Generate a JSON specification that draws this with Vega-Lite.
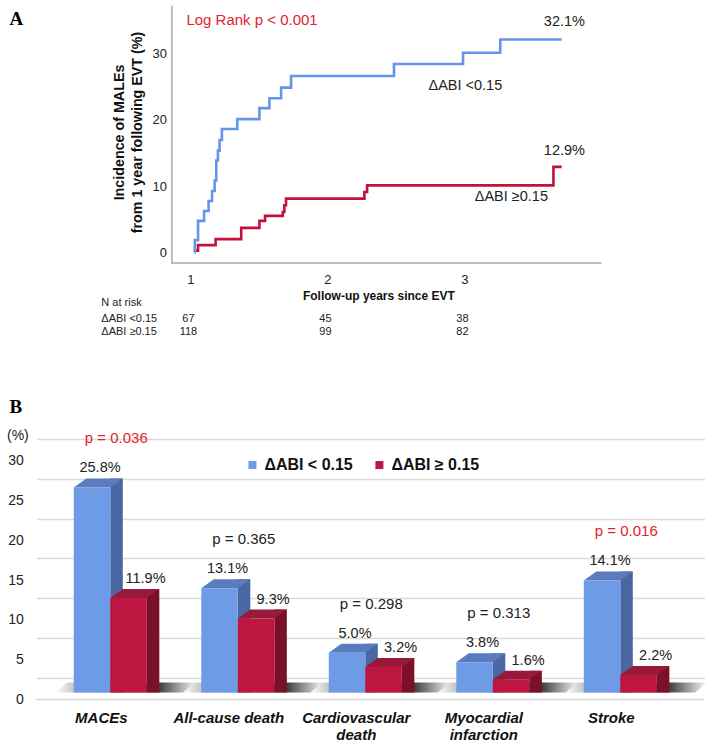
{
  "$schema": "https://vega.github.io/schema/vega-lite/v6.json",
  "padding": {"left": 6.4, "top": 5, "right": 0, "bottom": 0},
  "background": "white",
  "config": {"font": "Liberation Sans", "view": {"stroke": null}},
  "datasets": {
    "km": [
      {"grp": "ΔABI ≥0.15", "t": 1.024, "v": 0.25},
      {"grp": "ΔABI ≥0.15", "t": 1.056, "v": 1.1},
      {"grp": "ΔABI ≥0.15", "t": 1.184, "v": 2.0},
      {"grp": "ΔABI ≥0.15", "t": 1.371, "v": 3.7},
      {"grp": "ΔABI ≥0.15", "t": 1.504, "v": 4.75},
      {"grp": "ΔABI ≥0.15", "t": 1.545, "v": 5.5},
      {"grp": "ΔABI ≥0.15", "t": 1.674, "v": 6.1},
      {"grp": "ΔABI ≥0.15", "t": 1.686, "v": 7.1},
      {"grp": "ΔABI ≥0.15", "t": 1.698, "v": 8.1},
      {"grp": "ΔABI ≥0.15", "t": 2.27, "v": 9.1},
      {"grp": "ΔABI ≥0.15", "t": 2.29, "v": 10.1},
      {"grp": "ΔABI ≥0.15", "t": 3.65, "v": 12.9},
      {"grp": "ΔABI ≥0.15", "t": 3.71, "v": 12.9},
      {"grp": "ΔABI <0.15", "t": 1.031, "v": 0},
      {"grp": "ΔABI <0.15", "t": 1.033, "v": 1.85},
      {"grp": "ΔABI <0.15", "t": 1.056, "v": 4.75},
      {"grp": "ΔABI <0.15", "t": 1.1, "v": 6.25},
      {"grp": "ΔABI <0.15", "t": 1.133, "v": 7.75},
      {"grp": "ΔABI <0.15", "t": 1.158, "v": 9.25},
      {"grp": "ΔABI <0.15", "t": 1.177, "v": 10.85},
      {"grp": "ΔABI <0.15", "t": 1.189, "v": 13.85},
      {"grp": "ΔABI <0.15", "t": 1.201, "v": 15.35},
      {"grp": "ΔABI <0.15", "t": 1.213, "v": 16.95},
      {"grp": "ΔABI <0.15", "t": 1.23, "v": 18.6},
      {"grp": "ΔABI <0.15", "t": 1.342, "v": 20.1},
      {"grp": "ΔABI <0.15", "t": 1.504, "v": 21.75},
      {"grp": "ΔABI <0.15", "t": 1.577, "v": 23.25},
      {"grp": "ΔABI <0.15", "t": 1.662, "v": 24.85},
      {"grp": "ΔABI <0.15", "t": 1.735, "v": 26.6},
      {"grp": "ΔABI <0.15", "t": 2.486, "v": 28.4},
      {"grp": "ΔABI <0.15", "t": 2.99, "v": 30.1},
      {"grp": "ΔABI <0.15", "t": 3.262, "v": 32.1},
      {"grp": "ΔABI <0.15", "t": 3.71, "v": 32.1}
    ],
    "risk": [
      {"grp": "ΔABI <0.15", "t": 1, "n": 67},
      {"grp": "ΔABI <0.15", "t": 2, "n": 45},
      {"grp": "ΔABI <0.15", "t": 3, "n": 38},
      {"grp": "ΔABI ≥0.15", "t": 1, "n": 118},
      {"grp": "ΔABI ≥0.15", "t": 2, "n": 99},
      {"grp": "ΔABI ≥0.15", "t": 3, "n": 82}
    ],
    "bars": [
      {"outcome": "MACEs", "group": "ΔABI < 0.15", "value": 25.8},
      {"outcome": "MACEs", "group": "ΔABI ≥ 0.15", "value": 11.9},
      {"outcome": "All-cause death", "group": "ΔABI < 0.15", "value": 13.1},
      {"outcome": "All-cause death", "group": "ΔABI ≥ 0.15", "value": 9.3},
      {"outcome": "Cardiovascular death", "group": "ΔABI < 0.15", "value": 5.0},
      {"outcome": "Cardiovascular death", "group": "ΔABI ≥ 0.15", "value": 3.2},
      {"outcome": "Myocardial infarction", "group": "ΔABI < 0.15", "value": 3.8},
      {"outcome": "Myocardial infarction", "group": "ΔABI ≥ 0.15", "value": 1.6},
      {"outcome": "Stroke", "group": "ΔABI < 0.15", "value": 14.1},
      {"outcome": "Stroke", "group": "ΔABI ≥ 0.15", "value": 2.2}
    ],
    "pvals": [
      {"outcome": "MACEs", "p": "p = 0.036", "sig": true},
      {"outcome": "All-cause death", "p": "p = 0.365", "sig": false},
      {"outcome": "Cardiovascular death", "p": "p = 0.298", "sig": false},
      {"outcome": "Myocardial infarction", "p": "p = 0.313", "sig": false},
      {"outcome": "Stroke", "p": "p = 0.016", "sig": true}
    ]
  },
  "vconcat": [
    {
      "width": 565,
      "height": 258,
      "layer": [
        {
          "data": {"values": [{}]},
          "mark": {"type": "rule", "color": "#aaaaaa", "strokeWidth": 1.5},
          "encoding": {
            "x": {"datum": 0.861, "type": "quantitative", "scale": {"domain": [-0.124, 4.0], "nice": false, "zero": false}},
            "x2": {"datum": 4.0},
            "y": {"datum": -1.6, "type": "quantitative", "scale": {"domain": [-1.6, 37.3], "nice": false, "zero": false}}
          }
        },
        {
          "data": {"name": "km"},
          "mark": {"type": "line", "interpolate": "step-after", "strokeWidth": 2.6},
          "encoding": {
            "x": {"field": "t", "type": "quantitative", "scale": {"domain": [-0.124, 4.0], "nice": false, "zero": false},
              "axis": {"values": [1, 2, 3], "format": "d", "title": "Follow-up years since EVT", "titleFontSize": 12, "titleFontWeight": "bold", "titleColor": "#111", "titleX": 342, "titlePadding": 4, "labelFontSize": 13, "labelColor": "#222", "labelPadding": 10, "ticks": false, "grid": false, "domain": false}},
            "y": {"field": "v", "type": "quantitative", "scale": {"domain": [-1.6, 37.3], "nice": false, "zero": false},
              "axis": {"offset": -135, "tickMinStep": 10, "title": ["Incidence of MALEs", "from 1 year following EVT (%)"], "titleFontSize": 14.3, "titleFontWeight": "bold", "titleColor": "#111", "titleLineHeight": 18, "titlePadding": 7, "titleY": 127, "labelFontSize": 13, "labelColor": "#222", "labelPadding": 5, "ticks": false, "grid": false, "domainColor": "#aaaaaa", "domainWidth": 1.5}},
            "color": {"field": "grp", "type": "nominal", "scale": {"domain": ["ΔABI <0.15", "ΔABI ≥0.15"], "range": ["#6595ea", "#c4103a"]}, "legend": null}
          }
        },
        {
          "data": {"values": [{"t": -0.321, "v": 35.25, "txt": "A"}]},
          "mark": {"type": "text", "align": "left", "baseline": "middle", "font": "Liberation Serif", "fontWeight": "bold", "fontSize": 19, "color": "#000"},
          "encoding": {
            "x": {"field": "t", "type": "quantitative", "scale": {"domain": [-0.124, 4.0], "nice": false, "zero": false}},
            "y": {"field": "v", "type": "quantitative", "scale": {"domain": [-1.6, 37.3], "nice": false, "zero": false}},
            "text": {"field": "txt"}
          }
        },
        {
          "data": {"values": [{"t": 0.971, "v": 35.0, "txt": "Log Rank p < 0.001"}]},
          "mark": {"type": "text", "align": "left", "baseline": "middle", "fontSize": 15, "color": "#e3242b"},
          "encoding": {
            "x": {"field": "t", "type": "quantitative", "scale": {"domain": [-0.124, 4.0], "nice": false, "zero": false}},
            "y": {"field": "v", "type": "quantitative", "scale": {"domain": [-1.6, 37.3], "nice": false, "zero": false}},
            "text": {"field": "txt"}
          }
        },
        {
          "data": {"values": [
            {"t": 3.73, "v": 34.7, "txt": "32.1%"},
            {"t": 3.007, "v": 25.1, "txt": "ΔABI <0.15"},
            {"t": 3.73, "v": 15.3, "txt": "12.9%"},
            {"t": 3.343, "v": 8.3, "txt": "ΔABI ≥0.15"}
          ]},
          "mark": {"type": "text", "align": "center", "baseline": "middle", "fontSize": 14.5, "color": "#222"},
          "encoding": {
            "x": {"field": "t", "type": "quantitative", "scale": {"domain": [-0.124, 4.0], "nice": false, "zero": false}},
            "y": {"field": "v", "type": "quantitative", "scale": {"domain": [-1.6, 37.3], "nice": false, "zero": false}},
            "text": {"field": "txt"}
          }
        },
        {
          "data": {"values": [{"txt": "N at risk"}]},
          "mark": {"type": "text", "align": "left", "baseline": "middle", "fontSize": 11, "color": "#222"},
          "encoding": {
            "x": {"datum": 0.35, "type": "quantitative", "scale": {"domain": [-0.124, 4.0], "nice": false, "zero": false}},
            "y": {"datum": -7.64, "type": "quantitative", "scale": {"domain": [-1.6, 37.3], "nice": false, "zero": false}},
            "text": {"field": "txt"}
          }
        },
        {
          "data": {"name": "risk"},
          "transform": [{"filter": "datum.grp == 'ΔABI <0.15' && datum.t == 1"}],
          "mark": {"type": "text", "align": "left", "baseline": "middle", "fontSize": 11, "color": "#222"},
          "encoding": {
            "x": {"datum": 0.35, "type": "quantitative", "scale": {"domain": [-0.124, 4.0], "nice": false, "zero": false}},
            "y": {"datum": -10.06, "type": "quantitative", "scale": {"domain": [-1.6, 37.3], "nice": false, "zero": false}},
            "text": {"field": "grp"}
          }
        },
        {
          "data": {"name": "risk"},
          "transform": [{"filter": "datum.grp == 'ΔABI ≥0.15' && datum.t == 1"}],
          "mark": {"type": "text", "align": "left", "baseline": "middle", "fontSize": 11, "color": "#222"},
          "encoding": {
            "x": {"datum": 0.35, "type": "quantitative", "scale": {"domain": [-0.124, 4.0], "nice": false, "zero": false}},
            "y": {"datum": -12.02, "type": "quantitative", "scale": {"domain": [-1.6, 37.3], "nice": false, "zero": false}},
            "text": {"field": "grp"}
          }
        },
        {
          "data": {"name": "risk"},
          "transform": [{"filter": "datum.grp == 'ΔABI <0.15'"}],
          "mark": {"type": "text", "align": "center", "baseline": "middle", "fontSize": 11, "color": "#222", "dx": -2},
          "encoding": {
            "x": {"field": "t", "type": "quantitative", "scale": {"domain": [-0.124, 4.0], "nice": false, "zero": false}},
            "y": {"datum": -10.06, "type": "quantitative", "scale": {"domain": [-1.6, 37.3], "nice": false, "zero": false}},
            "text": {"field": "n"}
          }
        },
        {
          "data": {"name": "risk"},
          "transform": [{"filter": "datum.grp == 'ΔABI ≥0.15'"}],
          "mark": {"type": "text", "align": "center", "baseline": "middle", "fontSize": 11, "color": "#222", "dx": -2},
          "encoding": {
            "x": {"field": "t", "type": "quantitative", "scale": {"domain": [-0.124, 4.0], "nice": false, "zero": false}},
            "y": {"datum": -12.02, "type": "quantitative", "scale": {"domain": [-1.6, 37.3], "nice": false, "zero": false}},
            "text": {"field": "n"}
          }
        }
      ]
    },
    {
      "width": 668,
      "height": 238.5,
      "title": {"text": "B", "anchor": "start", "frame": "group", "font": "Liberation Serif", "fontSize": 19, "fontWeight": "bold", "color": "#000", "dx": -27, "offset": -3.5, "baseline": "alphabetic"},
      "layer": [
        {
          "data": {"values": [{}]},
          "mark": {"type": "rule", "color": "#d6d6d6", "strokeWidth": 1.5, "yOffset": 22},
          "encoding": {"y": {"datum": 0, "type": "quantitative", "scale": {"domain": [0, 30], "nice": false},
            "axis": {"values": [0, 5, 10, 15, 20, 25, 30], "tickCount": 7, "labelOverlap": false, "labelSeparation": 0, "title": "(%)", "titleAngle": 0, "titleX": -19, "titleY": -3, "titleAlign": "center", "titleBaseline": "middle", "titleFontSize": 14, "titleFontWeight": "normal", "titleColor": "#222", "labelFontSize": 14, "labelColor": "#222", "labelPadding": 13, "labelOffset": 22, "ticks": false, "domain": false, "grid": true, "gridColor": "#dadada", "gridWidth": 1.5}}}
        },
        {
          "data": {"values": [{"outcome": "MACEs"}, {"outcome": "All-cause death"}, {"outcome": "Cardiovascular death"}, {"outcome": "Myocardial infarction"}, {"outcome": "Stroke"}]},
          "mark": {"type": "point", "shape": "M-0.632,0 L0.862,0 L1,-0.115 L-0.494,-0.115 Z", "size": 30276, "filled": true, "opacity": 1, "strokeWidth": 0, "yOffset": 15,
            "color": {"gradient": "linear", "x1": 0, "x2": 1, "y1": 0, "y2": 0, "stops": [{"offset": 0, "color": "#ffffff"}, {"offset": 0.13, "color": "#c4c4c4"}, {"offset": 0.73, "color": "#3c3c3c"}, {"offset": 1, "color": "#ffffff"}]}},
          "encoding": {
            "x": {"field": "outcome", "type": "nominal", "scale": {"domain": ["MACEs", "All-cause death", "Cardiovascular death", "Myocardial infarction", "Stroke"], "paddingInner": 0.427, "paddingOuter": 0.333, "align": 0.44}},
            "y": {"datum": 0, "type": "quantitative", "scale": {"domain": [0, 30], "nice": false}}
          }
        },
        {
          "data": {"name": "bars"},
          "transform": [{"filter": "datum.group == 'ΔABI < 0.15'"}],
          "mark": {"type": "bar", "width": 12.5, "xOffset": 6.25, "yOffset": 6, "y2Offset": 15, "color": "#4a67a3"},
          "encoding": {
            "x": {"field": "outcome", "type": "nominal", "scale": {"domain": ["MACEs", "All-cause death", "Cardiovascular death", "Myocardial infarction", "Stroke"], "paddingInner": 0.427, "paddingOuter": 0.333, "align": 0.44}},
            "y": {"field": "value", "type": "quantitative", "stack": null, "scale": {"domain": [0, 30], "nice": false}},
            "y2": {"datum": 0}
          }
        },
        {
          "data": {"name": "bars"},
          "transform": [{"filter": "datum.group == 'ΔABI ≥ 0.15'"}],
          "mark": {"type": "bar", "width": 12.5, "xOffset": 42.79, "yOffset": 6, "y2Offset": 15, "color": "#7a1029"},
          "encoding": {
            "x": {"field": "outcome", "type": "nominal", "scale": {"domain": ["MACEs", "All-cause death", "Cardiovascular death", "Myocardial infarction", "Stroke"], "paddingInner": 0.427, "paddingOuter": 0.333, "align": 0.44}},
            "y": {"field": "value", "type": "quantitative", "stack": null, "scale": {"domain": [0, 30], "nice": false}},
            "y2": {"datum": 0}
          }
        },
        {
          "data": {"name": "bars"},
          "mark": {"type": "point", "shape": "M-0.5938,0 L0.5938,0 L1,-0.2925 L-0.1875,-0.2925 Z", "size": 3787, "filled": true, "opacity": 1, "strokeWidth": 0, "yOffset": 15},
          "encoding": {
            "x": {"field": "outcome", "type": "nominal", "scale": {"domain": ["MACEs", "All-cause death", "Cardiovascular death", "Myocardial infarction", "Stroke"], "paddingInner": 0.427, "paddingOuter": 0.333, "align": 0.44}},
            "xOffset": {"field": "group", "type": "nominal", "scale": {"domain": ["ΔABI < 0.15", "ΔABI ≥ 0.15"], "paddingInner": 0, "paddingOuter": 0}},
            "y": {"field": "value", "type": "quantitative", "scale": {"domain": [0, 30], "nice": false}},
            "color": {"field": "group", "type": "nominal", "scale": {"domain": ["ΔABI < 0.15", "ΔABI ≥ 0.15"], "range": ["#5a7bbd", "#98193a"]}, "legend": null}
          }
        },
        {
          "data": {"name": "bars"},
          "mark": {"type": "bar", "yOffset": 15, "y2Offset": 15},
          "encoding": {
            "x": {"field": "outcome", "type": "nominal", "scale": {"domain": ["MACEs", "All-cause death", "Cardiovascular death", "Myocardial infarction", "Stroke"], "paddingInner": 0.427, "paddingOuter": 0.333, "align": 0.44},
              "axis": {"title": null, "domain": false, "ticks": false, "labelAngle": 0, "labelAlign": "center", "labelFontSize": 15, "labelFontWeight": "bold", "labelFontStyle": "italic", "labelColor": "#111", "labelPadding": 40, "labelOffset": -9, "labelLineHeight": 17, "labelLimit": 300, "labelOverlap": false,
                "labelExpr": "datum.label == 'Cardiovascular death' ? ['Cardiovascular', 'death'] : datum.label == 'Myocardial infarction' ? ['Myocardial', 'infarction'] : datum.label"}},
            "xOffset": {"field": "group", "type": "nominal", "scale": {"domain": ["ΔABI < 0.15", "ΔABI ≥ 0.15"], "paddingInner": 0, "paddingOuter": 0}},
            "y": {"field": "value", "type": "quantitative", "stack": null, "scale": {"domain": [0, 30], "nice": false}},
            "y2": {"datum": 0},
            "color": {"field": "group", "type": "nominal", "scale": {"domain": ["ΔABI < 0.15", "ΔABI ≥ 0.15"], "range": ["#6d9be6", "#bd1640"]},
              "legend": {"orient": "none", "legendX": 208, "legendY": 18, "direction": "horizontal", "title": null, "symbolType": "square", "symbolSize": 64, "symbolStrokeWidth": 0, "labelFontSize": 16, "labelFontWeight": "bold", "labelColor": "#111", "columnPadding": 18, "labelOffset": 4, "padding": 0}}
          }
        },
        {
          "data": {"name": "bars"},
          "transform": [{"filter": "datum.group == 'ΔABI < 0.15'"}, {"calculate": "format(datum.value, '.1f') + '%'", "as": "label"}],
          "mark": {"type": "text", "fontSize": 14.5, "color": "#222", "baseline": "middle", "dx": 8, "dy": -4},
          "encoding": {
            "x": {"field": "outcome", "type": "nominal", "scale": {"domain": ["MACEs", "All-cause death", "Cardiovascular death", "Myocardial infarction", "Stroke"], "paddingInner": 0.427, "paddingOuter": 0.333, "align": 0.44}},
            "xOffset": {"field": "group", "type": "nominal", "scale": {"domain": ["ΔABI < 0.15", "ΔABI ≥ 0.15"], "paddingInner": 0, "paddingOuter": 0}},
            "y": {"field": "value", "type": "quantitative", "scale": {"domain": [0, 30], "nice": false}},
            "text": {"field": "label"}
          }
        },
        {
          "data": {"name": "bars"},
          "transform": [{"filter": "datum.group == 'ΔABI ≥ 0.15'"}, {"calculate": "format(datum.value, '.1f') + '%'", "as": "label"}],
          "mark": {"type": "text", "fontSize": 14.5, "color": "#222", "baseline": "middle", "dx": 17, "dy": -4},
          "encoding": {
            "x": {"field": "outcome", "type": "nominal", "scale": {"domain": ["MACEs", "All-cause death", "Cardiovascular death", "Myocardial infarction", "Stroke"], "paddingInner": 0.427, "paddingOuter": 0.333, "align": 0.44}},
            "xOffset": {"field": "group", "type": "nominal", "scale": {"domain": ["ΔABI < 0.15", "ΔABI ≥ 0.15"], "paddingInner": 0, "paddingOuter": 0}},
            "y": {"field": "value", "type": "quantitative", "scale": {"domain": [0, 30], "nice": false}},
            "text": {"field": "label"}
          }
        },
        {
          "data": {"name": "bars"},
          "transform": [
            {"aggregate": [{"op": "max", "field": "value", "as": "maxv"}], "groupby": ["outcome"]},
            {"lookup": "outcome", "from": {"data": {"name": "pvals"}, "key": "outcome", "fields": ["p", "sig"]}}
          ],
          "mark": {"type": "text", "fontSize": 15, "baseline": "middle", "dx": 6, "dy": -34},
          "encoding": {
            "x": {"field": "outcome", "type": "nominal", "scale": {"domain": ["MACEs", "All-cause death", "Cardiovascular death", "Myocardial infarction", "Stroke"], "paddingInner": 0.427, "paddingOuter": 0.333, "align": 0.44}},
            "y": {"field": "maxv", "type": "quantitative", "scale": {"domain": [0, 30], "nice": false}},
            "text": {"field": "p"},
            "color": {"condition": {"test": "datum.sig", "value": "#e3242b"}, "value": "#222"}
          }
        }
      ],
      "resolve": {"scale": {"color": "independent"}}
    }
  ],
  "spacing": 60
}
